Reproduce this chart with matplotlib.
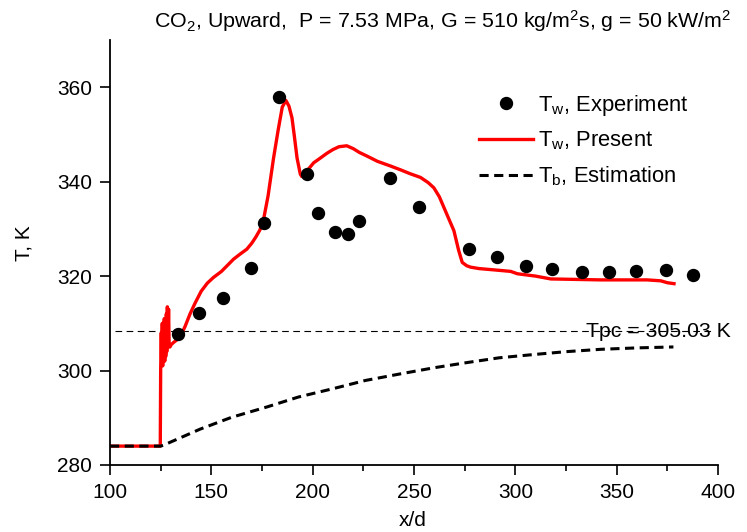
import matplotlib
matplotlib.use("Agg")
import matplotlib.pyplot as plt
from matplotlib.lines import Line2D

plt.rcParams['font.family'] = ['Liberation Sans', 'DejaVu Sans']
plt.rcParams['mathtext.fontset'] = 'custom'
plt.rcParams['mathtext.rm'] = 'Liberation Sans'
plt.rcParams['mathtext.it'] = 'Liberation Sans:italic'
plt.rcParams['mathtext.bf'] = 'Liberation Sans:bold'

# ---- data ----
exp_x = [133.5, 143.9, 155.7, 169.4, 176.2, 183.5, 197.0, 202.7, 210.9, 217.3,
         222.8, 238.1, 252.3, 277.0, 291.0, 305.4, 318.2, 333.0, 346.4, 359.4,
         374.1, 387.6]
exp_y = [307.7, 312.2, 315.4, 321.7, 331.3, 358.0, 341.7, 333.3, 329.3, 329.0,
         331.6, 340.8, 334.7, 325.7, 324.0, 322.1, 321.6, 320.9, 320.8, 321.0,
         321.2, 320.3]

pres_x = [100, 124.8, 125.0, 125.3, 125.5, 125.8, 126.0, 126.3, 126.5, 126.8,
          127.0, 127.3, 127.5, 127.8, 128.0, 128.3, 128.6, 128.9, 129.2, 129.6,
          130.2, 131.5, 133, 135, 137, 139.5, 142, 145, 148, 151,
          155, 158, 161, 164, 167.5, 170, 172, 174, 176, 178,
          180.7, 183, 185, 186.8, 188.3, 189.8, 191, 192.3, 193.9, 194.6,
          196, 197.2, 200.5, 203.8, 207, 210, 213, 216.8, 220, 223,
          226.9, 232, 238.5, 243.4, 248, 253.2, 257, 259.8, 262.5, 264.8,
          267.5, 269.7, 272, 273.8, 276, 277.9, 282, 290, 297.7, 301,
          310, 317.5, 330, 342, 355, 365, 371.8, 375, 378.3]
pres_y = [284, 284, 300, 308, 302, 310, 301, 309, 303, 311,
          302, 308, 303, 312, 304, 313.5, 306, 313, 305, 305,
          305.5, 306, 306.5, 307.5, 309.3, 312, 314.3, 316.8, 318.5, 319.7,
          321, 322.3, 323.6, 324.6, 325.7, 327, 328.3, 329.8, 332.5, 337,
          345, 351, 355.8, 357.2, 356, 353.5, 349.5, 345, 341.6, 341.1,
          341.5, 342.3, 344, 345, 346, 346.8, 347.4, 347.6, 347, 346.2,
          345.4, 344.3, 343.3, 342.5, 341.7, 340.9, 339.8, 338.7, 336.8, 334.5,
          331.8, 329.6, 325.5, 322.9, 322.2, 321.9, 321.6, 321.3, 321.0, 320.5,
          320.0, 319.4, 319.3, 319.2, 319.2, 319.2, 319.0, 318.6, 318.4]

est_x = [100, 125, 126.4, 144.5, 160, 177.5, 193, 210.4, 226, 243.3,
         260, 276.3, 292, 309.2, 325, 342.2, 360, 378]
est_y = [284, 284, 284.2, 287.6, 290.1, 292.3, 294.4, 296.2, 297.9, 299.3,
         300.6, 301.7, 302.7, 303.4, 304.0, 304.5, 304.8, 305.0]

tpc_x = [102.5, 398.5]
tpc_y = [308.3, 308.3]

x_ticks = [100, 150, 200, 250, 300, 350, 400]
y_ticks = [280, 300, 320, 340, 360]

title = r'CO$_2$, Upward,  P = 7.53 MPa, G = 510 kg/m$^2$s, g = 50 kW/m$^2$'

# ---- figure ----
fig = plt.figure(figsize=(7.47, 5.32), dpi=100)
ax = fig.add_axes([110/747, 67/532, 608/747, 425/532])

ax.plot(pres_x, pres_y, color='#ff0000', lw=2.4, solid_joinstyle='round', zorder=2)
ax.plot(est_x, est_y, color='black', lw=2.2, dashes=(3, 1.8), zorder=3)
ax.plot(tpc_x, tpc_y, color='black', lw=0.8, dashes=(6, 4), zorder=1)
ax.plot(exp_x, exp_y, 'o', color='black', ms=8.6, zorder=4)

ax.text(370.5, 308.3, 'Tpc = 305.03 K', fontsize=15.3, ha='center', va='center',
        zorder=5, clip_on=False)

ax.set_xlim(100, 400)
ax.set_ylim(280, 370)
ax.set_xticks(x_ticks)
ax.set_xticks([125, 175, 225, 275, 325, 375], minor=True)
ax.set_yticks(y_ticks)

for s in ['top', 'right']:
    ax.spines[s].set_visible(False)
for s in ['left', 'bottom']:
    ax.spines[s].set_linewidth(1.3)

ax.tick_params(axis='both', which='major', direction='out', length=7, width=1.2,
               labelsize=15, pad=6)
ax.tick_params(axis='both', which='minor', direction='out', length=4, width=1.2)

fig.text(413/747, 1 - 521/532, 'x/d', fontsize=15, ha='center', va='center')
fig.text(24/747, 1 - 243/532, 'T, K', fontsize=15, ha='center', va='center',
         rotation=90)
fig.text(154/747, 1 - 28/532, title, fontsize=15.4, ha='left', va='baseline')

handles = [
    Line2D([], [], ls='none', marker='o', color='black', ms=8.6),
    Line2D([], [], color='#ff0000', lw=2.4),
    Line2D([], [], color='black', lw=2.2, dashes=(3, 1.8)),
]
labels = [r'T$_{\rm w}$, Experiment', r'T$_{\rm w}$, Present', r'T$_{\rm b}$, Estimation']
ax.legend(handles, labels, loc='upper left', bbox_to_anchor=(479/747, 1 - 93/532),
          bbox_transform=fig.transFigure, frameon=False, borderpad=0,
          borderaxespad=0, handlelength=2.45, handletextpad=0.25,
          labelspacing=0.54, fontsize=15.8)

fig.savefig('out.png', dpi=100)
